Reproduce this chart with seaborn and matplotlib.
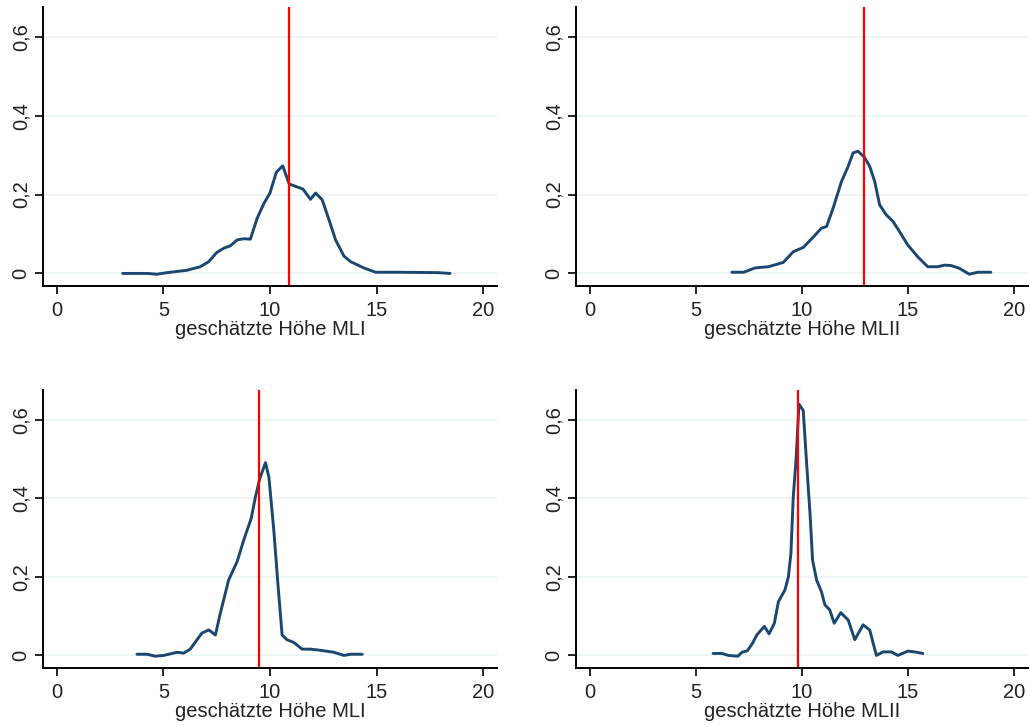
import matplotlib
matplotlib.use("Agg")
import matplotlib.pyplot as plt
import seaborn as sns

# Dichtekurven
X_OL = [3.09, 4.23, 4.7, 5.17, 6.1, 6.73, 7.13, 7.5, 7.83, 8.14, 8.46, 8.77, 9.08,
        9.4, 9.71, 10.0, 10.3, 10.6, 10.9, 11.2, 11.55, 11.9, 12.14, 12.45, 12.77,
        13.08, 13.47, 13.78, 14.4, 14.96, 16.1, 17.9, 18.45]
Y_OL = [0.0, 0.0, -0.002, 0.002, 0.008, 0.017, 0.03, 0.053, 0.064, 0.07, 0.085, 0.088,
        0.087, 0.14, 0.177, 0.204, 0.257, 0.273, 0.227, 0.221, 0.214, 0.188, 0.204,
        0.187, 0.136, 0.085, 0.044, 0.03, 0.014, 0.003, 0.003, 0.002, 0.0]

X_OR = [6.7, 7.25, 7.79, 8.42, 9.12, 9.59, 10.06, 10.53, 10.92, 11.16, 11.47, 11.86,
        12.18, 12.41, 12.64, 12.94, 13.19, 13.43, 13.66, 13.97, 14.29, 14.6, 14.99,
        15.46, 15.93, 16.4, 16.71, 17.03, 17.42, 17.89, 18.28, 18.9]
Y_OR = [0.003, 0.003, 0.014, 0.017, 0.028, 0.055, 0.066, 0.092, 0.115, 0.119, 0.166,
        0.233, 0.272, 0.306, 0.31, 0.295, 0.272, 0.233, 0.174, 0.149, 0.132, 0.106,
        0.072, 0.042, 0.017, 0.017, 0.021, 0.02, 0.013, -0.002, 0.003, 0.003]

X_UL = [3.76, 4.23, 4.62, 5.01, 5.64, 5.95, 6.26, 6.58, 6.81, 7.13, 7.44, 7.67, 8.06,
        8.46, 8.77, 9.12, 9.32, 9.52, 9.79, 9.95, 10.18, 10.37, 10.57, 10.8, 11.12,
        11.51, 11.9, 12.37, 13.0, 13.47, 13.78, 14.33]
Y_UL = [0.003, 0.003, -0.002, 0.0, 0.008, 0.006, 0.016, 0.04, 0.057, 0.065, 0.052,
        0.107, 0.192, 0.239, 0.294, 0.349, 0.404, 0.45, 0.491, 0.454, 0.319, 0.184,
        0.052, 0.04, 0.033, 0.016, 0.016, 0.013, 0.008, 0.0, 0.003, 0.003]

X_UR = [5.81, 6.23, 6.54, 6.98, 7.17, 7.43, 7.67, 7.87, 8.23, 8.45, 8.7, 8.89, 9.2,
        9.36, 9.48, 9.59, 9.72, 9.86, 10.06, 10.22, 10.38, 10.5, 10.69, 10.92, 11.08,
        11.31, 11.52, 11.83, 12.18, 12.49, 12.88, 13.19, 13.51, 13.82, 14.21, 14.52,
        14.99, 15.31, 15.7]
Y_UR = [0.005, 0.005, 0.0, -0.002, 0.008, 0.012, 0.031, 0.052, 0.074, 0.055, 0.082,
        0.137, 0.167, 0.2, 0.26, 0.404, 0.497, 0.64, 0.624, 0.489, 0.361, 0.243, 0.192,
        0.162, 0.129, 0.116, 0.082, 0.109, 0.09, 0.04, 0.078, 0.065, 0.0, 0.009, 0.009,
        0.0, 0.011, 0.009, 0.005]

VLINES = [10.9, 12.94, 9.5, 9.8]
XLABELS = ["geschätzte Höhe MLI", "geschätzte Höhe MLII",
           "geschätzte Höhe MLI", "geschätzte Höhe MLII"]
X_TICKS = [0, 5, 10, 15, 20]
Y_TICKS = [0, 0.2, 0.4, 0.6]
Y_TICKLABELS = ["0", "0,2", "0,4", "0,6"]

sns.set_theme(style="white")
plt.rcParams["font.family"] = ["Liberation Sans", "DejaVu Sans"]

fig = plt.figure(figsize=(10.3, 7.26), dpi=100)
positions = [
    [0.0417, 0.606, 0.4408, 0.3843],
    [0.5592, 0.606, 0.4388, 0.3843],
    [0.0417, 0.0799, 0.4408, 0.3829],
    [0.5592, 0.0799, 0.4388, 0.3829],
]
curves = [(X_OL, Y_OL), (X_OR, Y_OR), (X_UL, Y_UL), (X_UR, Y_UR)]

for pos, (xs, ys), vx, lab in zip(positions, curves, VLINES, XLABELS):
    ax = fig.add_axes(pos)
    for yt in Y_TICKS:
        ax.axhline(yt, color="#eaf2f3", lw=1.2, zorder=0)
    sns.lineplot(x=xs, y=ys, ax=ax, color="#1a476f", lw=2.1, sort=False)
    ax.axvline(vx, color="red", lw=1.6)
    ax.set_xlim(-0.65, 20.65)
    ax.set_ylim(-0.032, 0.676)
    ax.set_xticks(X_TICKS)
    ax.set_yticks(Y_TICKS)
    ax.set_yticklabels(Y_TICKLABELS, rotation=90, va="center")
    ax.set_xlabel(lab, fontsize=14.5, color="#222222", labelpad=0)
    ax.set_ylabel("")
    ax.tick_params(axis="both", direction="out", length=6, width=1.2,
                   labelsize=14.5, labelcolor="#222222", color="black",
                   bottom=True, left=True, pad=3)
    ax.tick_params(axis="x", pad=5)
    for side in ["top", "right"]:
        ax.spines[side].set_visible(False)
    for side in ["left", "bottom"]:
        ax.spines[side].set_color("black")
        ax.spines[side].set_linewidth(1.4)

fig.savefig("out.png", dpi=100)
